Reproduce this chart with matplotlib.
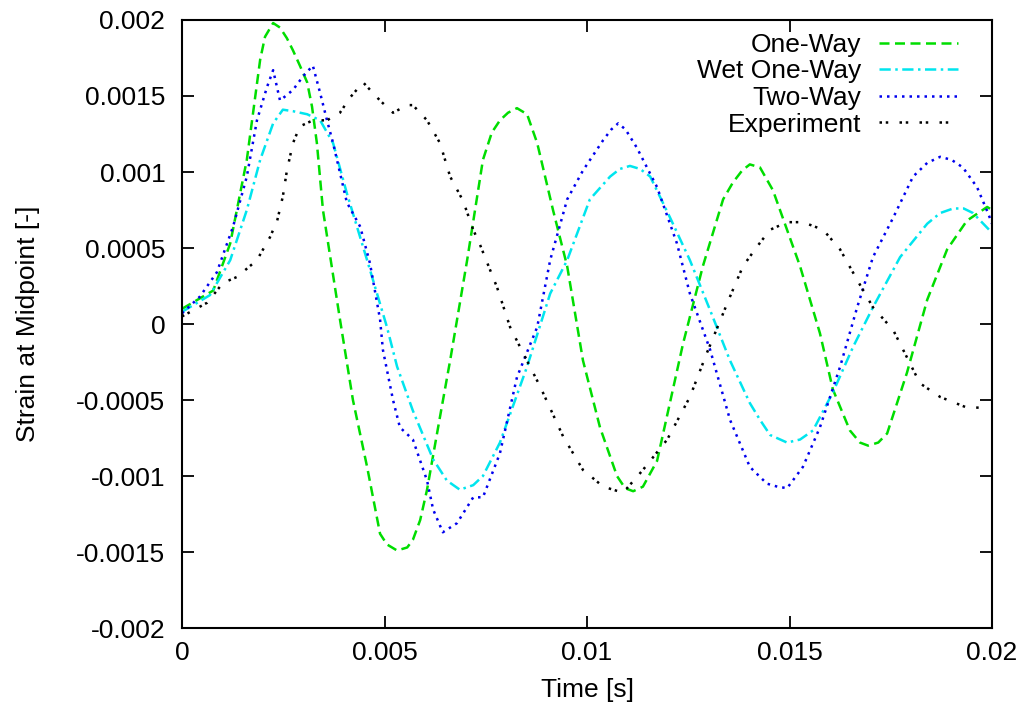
import numpy as np
import matplotlib
matplotlib.use("Agg")
import matplotlib.pyplot as plt

plt.rcParams['font.family'] = ['Liberation Sans', 'DejaVu Sans']

# One-Way
t_one = [0, 0.00077, 0.00119, 0.00160, 0.00193, 0.00205, 0.00225, 0.00242, 0.00259, 0.00274,
         0.00291, 0.00309, 0.00321, 0.00333, 0.00348, 0.00390, 0.00422, 0.00457, 0.00489, 0.00506,
         0.00531, 0.00556, 0.00570, 0.00588, 0.00605, 0.00637, 0.00662, 0.00704, 0.00743, 0.00765,
         0.00785, 0.00805, 0.00827, 0.00852, 0.00877, 0.00916, 0.00951, 0.00990, 0.01032, 0.01074,
         0.01094, 0.01114, 0.01138, 0.01173, 0.01237, 0.01286, 0.01336, 0.01360, 0.01383, 0.01402,
         0.01427, 0.01459, 0.01526, 0.01575, 0.01607, 0.01649, 0.01674, 0.01694, 0.01719, 0.01741,
         0.01790, 0.01840, 0.01889, 0.01938, 0.01988, 0.02]
s_one = [0.00010, 0.00022, 0.00053, 0.00108, 0.00174, 0.00189, 0.00198, 0.00195, 0.00188, 0.00180,
         0.00170, 0.00159, 0.00143, 0.00119, 0.00075, 0.00003, -0.00050, -0.00094, -0.00138, -0.00145,
         -0.00149, -0.00147, -0.00142, -0.00129, -0.00109, -0.00061, -0.00024, 0.00042, 0.00108, 0.00126,
         0.00134, 0.00139, 0.00142, 0.00138, 0.00119, 0.00075, 0.00038, -0.00024, -0.00068, -0.00100,
         -0.00108, -0.00110, -0.00107, -0.00090, -0.00013, 0.00038, 0.00082, 0.00093, 0.00101, 0.00105,
         0.00103, 0.00088, 0.00038, -0.00006, -0.00043, -0.00070, -0.00078, -0.00080, -0.00078, -0.00072,
         -0.00032, 0.00016, 0.00049, 0.00068, 0.00077, 0.00075]

# Wet One-Way
t_wet = [0, 0.00069, 0.00119, 0.00160, 0.00193, 0.00225, 0.00249, 0.00274, 0.00309, 0.00341,
         0.00373, 0.00407, 0.00457, 0.00506, 0.00531, 0.00570, 0.00620, 0.00654, 0.00686, 0.00719,
         0.00743, 0.00785, 0.00852, 0.00909, 0.00951, 0.01007, 0.01057, 0.01081, 0.01106, 0.01131,
         0.01156, 0.01205, 0.01254, 0.01304, 0.01353, 0.01402, 0.01427, 0.01452, 0.01494, 0.01526,
         0.01558, 0.01607, 0.01657, 0.01706, 0.01773, 0.01840, 0.01872, 0.01904, 0.01930, 0.01953,
         0.02]
s_wet = [0.00008, 0.00019, 0.00042, 0.00075, 0.00108, 0.00132, 0.00141, 0.00140, 0.00138, 0.00134,
         0.00119, 0.00086, 0.00042, -0.00002, -0.00028, -0.00057, -0.00089, -0.00103, -0.00109, -0.00106,
         -0.00100, -0.00078, -0.00028, 0.00020, 0.00042, 0.00082, 0.00097, 0.00102, 0.00104, 0.00102,
         0.00097, 0.00070, 0.00042, 0.00009, -0.00024, -0.00052, -0.00063, -0.00073, -0.00078, -0.00076,
         -0.00070, -0.00045, -0.00015, 0.00011, 0.00044, 0.00066, 0.00073, 0.00076, 0.00076, 0.00073,
         0.00060]

# Two-Way
t_two = [0, 0.00044, 0.00086, 0.00126, 0.00160, 0.00185, 0.00210, 0.00225, 0.00242, 0.00274,
         0.00299, 0.00323, 0.00341, 0.00358, 0.00373, 0.00407, 0.00440, 0.00464, 0.00489, 0.00496,
         0.00521, 0.00538, 0.00570, 0.00605, 0.00620, 0.00644, 0.00679, 0.00719, 0.00743, 0.00785,
         0.00827, 0.00877, 0.00909, 0.00951, 0.00990, 0.01040, 0.01060, 0.01077, 0.01095, 0.01123,
         0.01173, 0.01222, 0.01254, 0.01304, 0.01353, 0.01402, 0.01444, 0.01470, 0.01494, 0.01533,
         0.01575, 0.01625, 0.01667, 0.01706, 0.01756, 0.01805, 0.01840, 0.01872, 0.01900, 0.01928,
         0.01963, 0.01990, 0.02]
s_two = [0.00007, 0.00018, 0.00034, 0.00064, 0.00097, 0.00134, 0.00156, 0.00167, 0.00147, 0.00154,
         0.00163, 0.00170, 0.00152, 0.00134, 0.00119, 0.00080, 0.00064, 0.00040, 0.00003, -0.00017,
         -0.00050, -0.00068, -0.00076, -0.00103, -0.00122, -0.00137, -0.00131, -0.00114, -0.00114, -0.00085,
         -0.00035, -0.00002, 0.00042, 0.00082, 0.00101, 0.00121, 0.00128, 0.00132, 0.00128, 0.00116,
         0.00090, 0.00053, 0.00020, -0.00017, -0.00063, -0.00094, -0.00105, -0.00107, -0.00108, -0.00094,
         -0.00068, -0.00028, 0.00011, 0.00044, 0.00070, 0.00097, 0.00106, 0.00110, 0.00108, 0.00103,
         0.00090, 0.00073, 0.00066]

# Experiment
t_exp = [0, 0.00062, 0.00101, 0.00136, 0.00185, 0.00217, 0.00235, 0.00249, 0.00259, 0.00274,
         0.00291, 0.00323, 0.00358, 0.00390, 0.00415, 0.00447, 0.00489, 0.00521, 0.00556, 0.00570,
         0.00605, 0.00637, 0.00662, 0.00694, 0.00719, 0.00736, 0.00778, 0.00810, 0.00842, 0.00884,
         0.00941, 0.00990, 0.01040, 0.01089, 0.01138, 0.01198, 0.01254, 0.01296, 0.01353, 0.01385,
         0.01420, 0.01452, 0.01494, 0.01533, 0.01583, 0.01625, 0.01667, 0.01706, 0.01756, 0.01790,
         0.01822, 0.01872, 0.01938, 0.01975]
s_exp = [0.00005, 0.00014, 0.00027, 0.00031, 0.00042, 0.00057, 0.00068, 0.00084, 0.00101, 0.00119,
         0.00130, 0.00134, 0.00134, 0.00139, 0.00149, 0.00159, 0.00147, 0.00139, 0.00144, 0.00144,
         0.00134, 0.00119, 0.00097, 0.00081, 0.00062, 0.00052, 0.00024, -0.00002, -0.00019, -0.00041,
         -0.00074, -0.00096, -0.00107, -0.00111, -0.00096, -0.00076, -0.00048, -0.00019, 0.00018, 0.00038,
         0.00051, 0.00062, 0.00067, 0.00067, 0.00062, 0.00049, 0.00029, 0.00011, -0.00004, -0.00022,
         -0.00039, -0.00048, -0.00055, -0.00055]

x_ticks = [0, 0.005, 0.01, 0.015, 0.02]
x_labels = ['0', '0.005', '0.01', '0.015', '0.02']
y_ticks = [-0.002, -0.0015, -0.001, -0.0005, 0, 0.0005, 0.001, 0.0015, 0.002]
y_labels = ['-0.002', '-0.0015', '-0.001', '-0.0005', '0', '0.0005', '0.001', '0.0015', '0.002']

fig = plt.figure(figsize=(10.26, 7.09), dpi=100)
ax = fig.add_axes([0.1774, 0.1142, 0.7895, 0.8576])

lw = 1.8
ax.plot(t_one, s_one, color='#00dd00', lw=lw, dashes=(4, 2.2), label='One-Way')
ax.plot(t_wet, s_wet, color='#00e5ee', lw=lw, dashes=(4.5, 1.8, 1, 1.8), label='Wet One-Way')
ax.plot(t_two, s_two, color='#0000ee', lw=lw, dashes=(1, 2), label='Two-Way')
ax.plot(t_exp, s_exp, color='black', lw=lw, dashes=(1, 1.5, 1, 4.5), label='Experiment')

ax.set_xlim(0, 0.02)
ax.set_ylim(-0.002, 0.002)
ax.set_xticks(x_ticks)
ax.set_xticklabels(x_labels)
ax.set_yticks(y_ticks)
ax.set_yticklabels(y_labels)
ax.tick_params(direction='in', length=8.5, width=1.3, top=True, right=True, labelsize=19)
ax.tick_params(axis='y', pad=12)
ax.tick_params(axis='x', pad=9)
for sp in ax.spines.values():
    sp.set_linewidth(1.5)

ax.set_xlabel('Time [s]', fontsize=19, labelpad=10)
ax.set_ylabel('Strain at Midpoint [-]', fontsize=19, labelpad=26)

ax.legend(loc='upper right', frameon=False, markerfirst=False, fontsize=19,
          handlelength=3.0, handletextpad=0.65, labelspacing=0.1,
          borderpad=0, borderaxespad=0, bbox_to_anchor=(0.958, 0.979))

fig.savefig('out.png', dpi=100)
